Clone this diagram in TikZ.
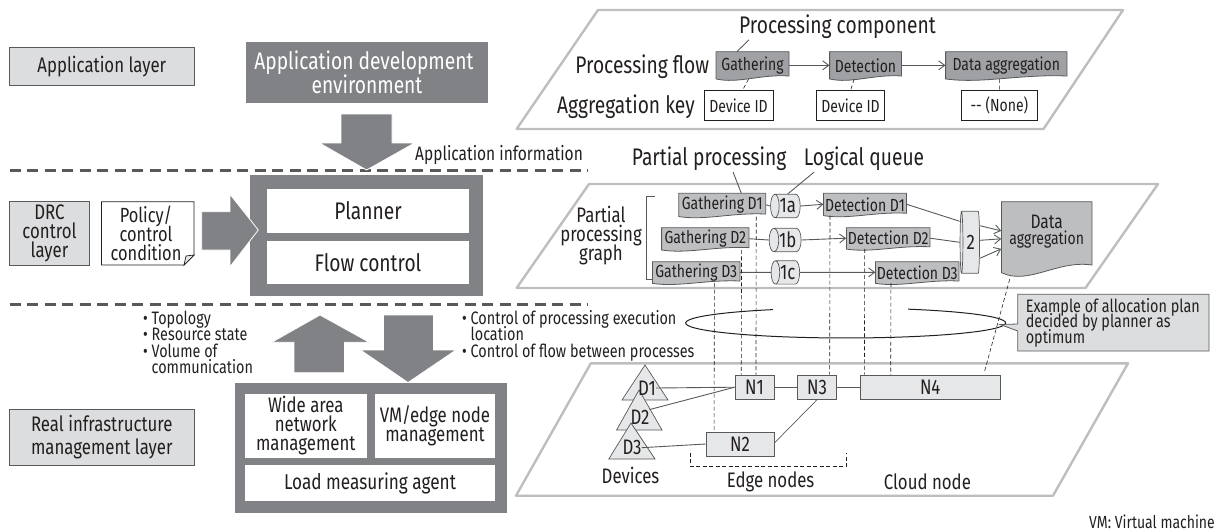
\documentclass[tikz,border=0pt]{standalone}
\usepackage{fontspec}
\setmainfont[FakeStretch=0.8]{Fira Sans}
\usepackage{xcolor}
\usepackage{tikz}
\usetikzlibrary{calc,arrows.meta,shapes.geometric}

\normallineskiplimit=-50pt
\lineskiplimit=-50pt

\definecolor{blockgray}{HTML}{808285}
\definecolor{linegray}{HTML}{58595B}
\definecolor{framegray}{HTML}{BCBEC0}
\definecolor{layerfill}{HTML}{DCDDDE}
\definecolor{palefill}{HTML}{E6E7E8}
\definecolor{docdark}{HTML}{A0A1A4}
\definecolor{doclight}{HTML}{BCBEC0}
\definecolor{inkgray}{HTML}{231F20}

\newcommand{\sizeL}{\fontsize{24}{24}\selectfont}
\newcommand{\sizeM}{\fontsize{21}{19}\selectfont}
\newcommand{\sizeS}{\fontsize{18}{16.2}\selectfont}
\newcommand{\sizeT}{\fontsize{17.5}{15.7}\selectfont}

\tikzset{
  layerbox/.style={draw=linegray,fill=layerfill,line width=1pt,inner sep=0pt,align=center,font=\sizeM},
  whitebox/.style={fill=white,inner sep=0pt,align=center,font=\sizeM},
  label/.style={inner sep=0pt,align=center,font=\sizeL},
  smalltext/.style={inner sep=0pt,align=left,font=\sizeS},
  keybox/.style={draw=inkgray,fill=white,line width=.7pt,inner sep=0pt,font=\sizeT},
  netbox/.style={draw=linegray,fill=palefill,line width=.7pt,inner sep=0pt,font=\sizeM},
  queuebox/.style={cylinder,shape border rotate=180,draw=linegray,fill=palefill,line width=.7pt,inner sep=0pt,font=\sizeM},
  doctext/.style={inner sep=0pt,align=center,font=\sizeT},
  plane/.style={draw=framegray,line width=2.4pt,line join=round},
  blockarrow/.style={fill=blockgray,draw=white,line width=.8pt},
  layerline/.style={draw=linegray,line width=3pt,dash pattern=on 11pt off 6.5pt},
  flow/.style={draw=linegray,line width=.9pt},
  drop/.style={draw=inkgray,line width=.6pt,dash pattern=on 4pt off 2.5pt},
  lead/.style={draw=linegray,line width=.9pt},
  devtri/.style={draw=linegray,fill=palefill,line width=.7pt},
}

\newcommand{\docnode}[7][docdark]{%
  \draw[draw=linegray,fill=#1,line width=.8pt] (#3,#4) -- (#5,#4) -- (#5,{#6-.17*(#6-#4)})
    .. controls ({#3+.62*(#5-#3)},{#6-.24*(#6-#4)}) and ({#3+.3*(#5-#3)},{#6+.1*(#6-#4)}) .. (#3,{#6-.07*(#6-#4)}) -- cycle;
  \node[doctext,minimum width={(#5-#3)*1pt},minimum height={(#6-#4-2)*1pt}] (#2) at ({(#3+#5)/2},{(#4+#6-2)/2}) {#7};
}

\begin{document}
\begin{tikzpicture}[x=1pt,y=-1pt,>={Straight Barb[length=6pt,width=9pt]},color=inkgray]
  \useasboundingbox (0,0) rectangle (1223,531);

  \draw[plane] (598,10) -- (1123,10) -- (1043.5,129) -- (516.6,129) -- cycle;
  \draw[plane] (589,184) -- (1158,184) -- (1085.5,288) -- (516.6,288) -- cycle;
  \draw[plane] (590.8,363.3) -- (1128,363.3) -- (1053,495.7) -- (516,495.7) -- cycle;

  \draw[layerline] (9.6,170) -- (588,170);
  \draw[layerline] (9.6,304) -- (588,304);

  \node[layerbox,minimum width=184.4,minimum height=38.7] (applayer) at (101.8,66.4) {Application layer};
  \node[layerbox,minimum width=79.9,minimum height=63.3] (drclayer) at (49.5,233.4) {DRC\\control\\layer};
  \node[layerbox,minimum width=184.4,minimum height=55.7,font=\fontsize{21}{22.5}\selectfont] (inflayer) at (101.8,437.2) {Real infrastructure\\management layer};

  \node[fill=blockgray,text=white,inner sep=0pt,align=center,font=\fontsize{24}{24.5}\selectfont,minimum width=242,minimum height=60.7] (appenv) at (367,72.4) {\hspace*{-6pt}Application development\\environment};

  \node[fill=blockgray,inner sep=0pt,minimum width=233,minimum height=120.7] (drcouter) at (366.5,235.4) {};
  \node[whitebox,minimum width=202,minimum height=43.7,font=\fontsize{24}{24}\selectfont] (planner) at (368,210.9) {Planner};
  \node[whitebox,minimum width=202,minimum height=43,font=\fontsize{24}{24}\selectfont] (flowctl) at (368,262.5) {Flow control};

  \node[fill=blockgray,inner sep=0pt,minimum width=272,minimum height=129.4] (infouter) at (371,448) {};
  \node[whitebox,minimum width=121.6,minimum height=63.7] (wanmgmt) at (305.8,425.9) {Wide area\\network\\management};
  \node[whitebox,minimum width=120,minimum height=63.7] (vmmgmt) at (435,425.9) {VM/edge node\\management};
  \node[whitebox,minimum width=250,minimum height=35.7,font=\fontsize{21.5}{19}\selectfont] (loadagent) at (370,482.9) {Load measuring agent};

  \draw[draw=inkgray,fill=white,line width=.7pt] (101.4,201.7) -- (194,201.7) -- (194,255) -- (184,265) -- (101.4,265) -- cycle;
  \draw[draw=inkgray,fill=palefill,line width=.7pt] (184,265) -- (186,256) -- (194,255) -- cycle;
  \node[inner sep=0pt,align=center,font=\fontsize{20.5}{19}\selectfont] (policy) at (146,233.4) {Policy/\\control\\condition};

  \draw[blockarrow] (341,114) -- (392,114) -- (392,143) -- (414.5,143) -- (366.6,170) -- (319.5,143) -- (341,143) -- cycle;
  \draw[blockarrow] (201.7,211.7) -- (230,211.7) -- (230,194.3) -- (258.3,230) -- (230,266.7) -- (230,250) -- (201.7,250) -- cycle;
  \draw[blockarrow] (294,372.7) -- (344.4,372.7) -- (344.4,342.3) -- (369.3,342.3) -- (320,315) -- (271.7,342.3) -- (294,342.3) -- cycle;
  \draw[blockarrow] (383.5,315) -- (433.6,315) -- (433.6,350) -- (456,350) -- (408,382.5) -- (360.5,350) -- (383.5,350) -- cycle;

  \node[inner sep=0pt,anchor=west,font=\fontsize{19.4}{16}\selectfont] (appinfo) at (415,155) {Application information};
  \node[smalltext,anchor=north west] (metrics) at (143,311) {• Topology\\• Resource state\\• Volume of\\\phantom{• }communication};
  \node[smalltext,anchor=north west] (ctrlnote) at (462,310.5) {• Control of processing execution\\\phantom{• }location\\• Control of flow between processes};

  \node[label,anchor=west] (proccomp) at (739,26.7) {Processing component};
  \node[label,anchor=east] (procflow) at (709.4,66.7) {Processing flow};
  \node[label,anchor=east] (aggkey) at (695,107) {Aggregation key};

  \docnode{gathering}{716}{51.7}{789}{81}{Gathering}
  \docnode{detection}{829.6}{51.7}{901.5}{81}{Detection}
  \docnode{dataagg}{945.6}{51.7}{1067}{81}{Data aggregation}

  \node[keybox,minimum width=69,minimum height=29.3] (keya) at (738.5,105.3) {Device ID};
  \node[keybox,minimum width=68,minimum height=29.3] (keyb) at (850.6,105.3) {Device ID};
  \node[keybox,minimum width=76.8,minimum height=29.3] (keyc) at (999.4,105.3) {-{}- (None)};

  \draw[lead] ($(proccomp.south west)+(10,1)$) -- ($(gathering.north)+(-15.5,0)$);
  \draw[flow,->] (gathering) -- (detection);
  \draw[flow,->] (detection) -- (dataagg);
  \draw[drop] ($(gathering.south)+(-4,0)$) -- ($(keya.north)+(4,0)$);
  \draw[drop] ($(detection.south)+(-11.5,0)$) -- (keyb.north);
  \draw[drop] ($(dataagg.south)+(-7,0)$) -- (keyc.north);

  \node[label,anchor=west] (partproc) at (631.7,159) {Partial processing};
  \node[label,anchor=west] (logqueue) at (803.6,159) {Logical queue};
  \node[inner sep=0pt,align=center,font=\sizeM] (partgraph) at (601,236) {Partial\\processing\\graph};
  \draw[draw=linegray,line width=.9pt] (654.7,196.7) -- (646.3,196.7) -- (646.3,279.3) -- (654.7,279.3);

  \docnode[doclight]{gathd1}{678.8}{193.3}{765.7}{218.3}{Gathering D1}
  \docnode[doclight]{gathd2}{661.6}{227.7}{748.9}{251.7}{Gathering D2}
  \docnode[doclight]{gathd3}{652.4}{261.7}{740}{285}{Gathering D3}
  \docnode[doclight]{detd1}{823.5}{193.3}{906.5}{217.3}{Detection D1}
  \docnode[doclight]{detd2}{846.4}{227.7}{930}{250.7}{Detection D2}
  \docnode[doclight]{detd3}{875.5}{261.7}{959}{285}{Detection D3}
  \docnode[doclight]{aggfinal}{1001.4}{201.7}{1092}{278}{\fontsize{19.5}{18.5}\selectfont Data\\aggregation\\[2pt]\mbox{}}

  \node[queuebox,aspect=.6,minimum height=25.6,minimum width=23.4] (q1a) at (787.7,206) {1a};
  \node[queuebox,aspect=.6,minimum height=25.6,minimum width=23.4] (q1b) at (787.7,240) {1b};
  \node[queuebox,aspect=.6,minimum height=25.6,minimum width=23.4] (q1c) at (787.7,272.4) {1c};
  \node[queuebox,aspect=.2,minimum height=19.5,minimum width=62] (q2) at (970.7,242.3) {2};

  \draw[lead] ($(partproc.south)+(24,1)$) -- ($(gathd1.north)+(19,0)$);
  \draw[lead] ($(logqueue.south west)+(10.5,1)$) -- (q1a.north);

  \draw[flow] (gathd1.east) -- (q1a.west);
  \draw[flow] (gathd2.east) -- (q1b.west);
  \draw[flow] (gathd3.east) -- (q1c.west);
  \draw[flow,->] (q1a.east) -- (detd1.west);
  \draw[flow,->] (q1b.east) -- (detd2.west);
  \draw[flow,->] (q1c.east) -- (detd3.west);
  \draw[flow] (detd1.east) -- ($(q2.west)+(0,-21)$);
  \draw[flow] (detd2.east) -- (q2.west);
  \draw[flow,->] ($(q2.east)+(0,-16.6)$) -- ($(aggfinal.west)+(0,-8)$);
  \draw[flow,->] ($(q2.east)+(0,-2)$) -- ($(aggfinal.west)+(0,0)$);
  \draw[flow,->] ($(q2.east)+(0,16)$) -- ($(aggfinal.west)+(0,10)$);

  \draw[draw=inkgray,line width=1pt] (773,309.6) arc[start angle=117,end angle=427,x radius=160pt,y radius=15pt];

  \draw[draw=linegray,fill=layerfill,line width=.8pt] (1017.8,294.3) -- (1209,294.3) -- (1209,351) -- (1017.8,351) -- (1017.8,331) -- (1000.2,324.5) -- (1017.8,324) -- cycle;
  \node[inner sep=0pt,align=left,anchor=north west,font=\fontsize{18}{15.7}\selectfont] (allocnote) at (1025.6,298) {Example of allocation plan\\decided by planner as\\optimum};

  \draw[devtri] (645,365) -- (668,400) -- (622,400) -- cycle;
  \draw[devtri] (639,390) -- (662,430) -- (616.6,430) -- cycle;
  \draw[devtri] (631,423) -- (655,459) -- (608.8,459) -- cycle;
  \node[inner sep=0pt,font=\sizeM] (d1) at (647,388) {D1};
  \node[inner sep=0pt,font=\sizeM] (d2) at (640,417) {D2};
  \node[inner sep=0pt,font=\sizeM] (d3) at (632,447.7) {D3};

  \node[netbox,minimum width=39,minimum height=24.3] (n1) at (754.5,387.2) {N1};
  \node[netbox,minimum width=39.2,minimum height=24.3] (n3) at (817,387.2) {N3};
  \node[netbox,minimum width=139.3,minimum height=24.3] (n4) at (930.2,387.2) {N4};
  \node[netbox,minimum width=68,minimum height=24] (n2) at (740,444) {N2};

  \draw[flow] (d1.east) -- (n1.west);
  \draw[flow] (d2.north east) -- (n1.west);
  \draw[flow] (d3.east) -- (n2.west);
  \draw[flow] (n1.east) -- (n3.west);
  \draw[flow] (n3.east) -- (n4.west);
  \draw[flow,line width=.7pt] (n3.south) -- ($(n2.east)+(0,-1)$);

  \draw[drop] ($(gathd3.south)+(18.2,0)$) -- ($(n2.north west)+(8.4,0)$);
  \draw[drop] ($(gathd2.south)+(36.3,0)$) -- ($(n1.north west)+(6.6,0)$);
  \draw[drop] ($(gathd1.south)+(34,0)$) -- ($(n1.north west)+(21.3,0)$);
  \draw[drop] ($(detd1.south)+(-35,0)$) -- ($(n3.north west)+(32.6,0)$);
  \draw[drop] ($(detd2.south)+(-23.5,0)$) -- ($(n4.north west)+(4.2,0)$);
  \draw[drop] ($(detd3.south)+(-26.3,0)$) -- ($(n4.north west)+(30.5,0)$);
  \draw[drop] ($(aggfinal.south)+(-37,3)$) -- ($(n4.north east)+(-16,-2)$);

  \coordinate (edgeL) at (690,452.7);
  \coordinate (edgeR) at (846.7,452.7);
  \draw[drop] (edgeL) -- ++(0,13.3) -| (edgeR);

  \node[inner sep=0pt,font=\sizeM] (devices) at (630.5,475.7) {Devices};
  \node[inner sep=0pt,font=\sizeM] (edgenodes) at (770.6,481.7) {Edge nodes};
  \node[inner sep=0pt,font=\sizeM] (cloudnode) at (927.4,481.7) {Cloud node};
  \node[inner sep=0pt,anchor=east,font=\sizeT] (vmnote) at (1215,521.7) {VM: Virtual machine};
\end{tikzpicture}
\end{document}
